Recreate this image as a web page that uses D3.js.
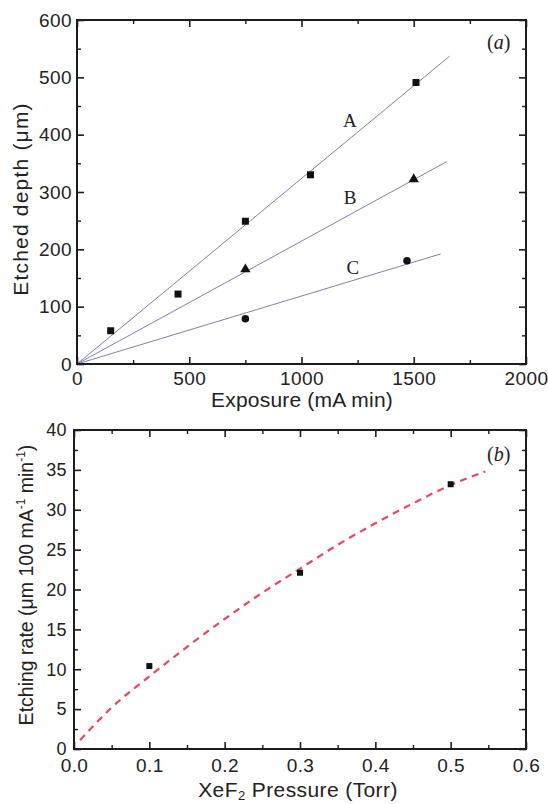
<!DOCTYPE html>
<html>
<head>
<meta charset="utf-8">
<script src="https://cdn.jsdelivr.net/npm/d3@7"></script>
<style>
  body { margin: 0; background: #fff; }
  svg { display: block; }
  text { font-family: "Liberation Sans", Arial, sans-serif; fill: #222; }
  .serif { font-family: "Liberation Serif", "Times New Roman", serif; }
</style>
</head>
<body>
<svg id="canvas" width="548" height="804"></svg>
<script>
// panel (a) data: exposure (mA min) vs etched depth (um)
let expA = [150, 450, 750, 1040, 1510]
let depthA = [58, 122, 249, 330, 491]
let expB = [750, 1500]
let depthB = [166, 323]
let expC = [750, 1470]
let depthC = [79, 180]

// straight fit lines through the origin
let fitX = [[0, 1660], [0, 1647], [0, 1620]]
let fitY = [[0, 537], [0, 353], [0, 192]]
let fitNames = ['A', 'B', 'C']

// panel (b) data: XeF2 pressure vs etching rate
let pressure = [0.1, 0.3, 0.5]
let rate = [10.4, 22.1, 33.2]

// dashed fit curve
let curveP = [0.008, 0.05, 0.1, 0.15, 0.2, 0.25, 0.3, 0.35, 0.4, 0.45, 0.5, 0.546]
let curveR = [1.1, 5.2, 9.1, 12.8, 16.3, 19.6, 22.6, 25.6, 28.3, 30.8, 33.1, 34.8]

let xTicksA = [0, 500, 1000, 1500, 2000]
let yTicksA = [0, 100, 200, 300, 400, 500, 600]
let xTicksB = [0.0, 0.1, 0.2, 0.3, 0.4, 0.5, 0.6]
let yTicksB = [0, 5, 10, 15, 20, 25, 30, 35, 40]

let canvas = d3.select('#canvas')
let ink = '#1c1c1c'

// draws frame + inward ticks on all four sides
let drawFrame = (g, x, y, xMaj, xMin, yMaj, yMin, xFmt, yFmt, fs, yfs, xPad, yPad) => {
    let w = x.range()[1] - x.range()[0]
    let h = y.range()[0] - y.range()[1]
    let axes = [
        [d3.axisBottom(x), 'translate(0,' + h + ')', xMaj, xMin, xFmt],
        [d3.axisTop(x), 'translate(0,0)', xMaj, xMin, null],
        [d3.axisLeft(y), 'translate(0,0)', yMaj, yMin, yFmt],
        [d3.axisRight(y), 'translate(' + w + ',0)', yMaj, yMin, null]
    ]
    axes.forEach(([ax, tr, maj, min, fmt], i) => {
        let pad = i < 2 ? xPad : yPad
        let a = g.append('g').attr('transform', tr)
            .call(ax.tickValues(maj).tickSize(-7).tickPadding(pad)
                .tickFormat(fmt ? fmt : () => ''))
        a.select('.domain').remove()
        a.selectAll('line').attr('stroke', ink).attr('stroke-width', 1.6)
        a.selectAll('text').attr('font-size', i < 2 ? fs : yfs)
            .attr('font-family', '"Liberation Sans", Arial, sans-serif').attr('fill', '#222')
            .attr('letter-spacing', 0.4)
        let m = g.append('g').attr('transform', tr)
            .call(ax.tickValues(min).tickSize(-4).tickFormat(() => ''))
        m.select('.domain').remove()
        m.selectAll('line').attr('stroke', ink).attr('stroke-width', 1.4)
    })
    g.append('rect').attr('width', w).attr('height', h)
        .attr('fill', 'none').attr('stroke', ink).attr('stroke-width', 2)
}

// ---------------- panel (a)
let xA = d3.scaleLinear().domain([0, 2000]).range([0, 449])
let yA = d3.scaleLinear().domain([0, 600]).range([344, 0])
let gA = canvas.append('g').attr('transform', 'translate(77,20)')

fitX.forEach((xs, i) => {
    gA.append('path')
        .datum(xs.map((v, j) => [v, fitY[i][j]]))
        .attr('d', d3.line().x(d => xA(d[0])).y(d => yA(d[1])))
        .attr('fill', 'none').attr('stroke', '#6e739e').attr('stroke-width', 0.9)
})

gA.selectAll('.sq').data(expA).enter().append('rect')
    .attr('x', (d) => xA(d) - 3.5).attr('y', (d, i) => yA(depthA[i]) - 3.5)
    .attr('width', 7).attr('height', 7).attr('fill', '#111')
gA.selectAll('.tri').data(expB).enter().append('path')
    .attr('d', d3.symbol(d3.symbolTriangle, 46))
    .attr('transform', (d, i) => 'translate(' + xA(d) + ',' + (yA(depthB[i]) + 0.5) + ')')
    .attr('fill', '#111')
gA.selectAll('.dot').data(expC).enter().append('circle')
    .attr('cx', (d) => xA(d)).attr('cy', (d, i) => yA(depthC[i]))
    .attr('r', 3.8).attr('fill', '#111')

drawFrame(gA, xA, yA, xTicksA, d3.range(250, 2000, 500), yTicksA, d3.range(50, 600, 100),
    d3.format('d'), d3.format('d'), 19, 19, 8, 5)

let labelPos = [[1216, 425], [1216, 291], [1229, 169]]
fitNames.forEach((n, i) => {
    gA.append('text').attr('class', 'serif')
        .attr('x', xA(labelPos[i][0])).attr('y', yA(labelPos[i][1]))
        .attr('dy', '0.35em').attr('text-anchor', 'middle')
        .attr('font-size', 19).text(n)
})
let ta = gA.append('text').attr('class', 'serif').attr('x', 410).attr('y', 29).attr('font-size', 20)
ta.append('tspan').text('(')
ta.append('tspan').attr('font-style', 'italic').text('a')
ta.append('tspan').text(')')

canvas.append('text').attr('x', 302).attr('y', 407).attr('text-anchor', 'middle')
    .attr('font-size', 21).attr('letter-spacing', 0.2).text('Exposure (mA min)')
canvas.append('text').attr('transform', 'translate(28,199) rotate(-90)')
    .attr('text-anchor', 'middle').attr('font-size', 21).attr('letter-spacing', 1.2)
    .text('Etched depth (\u03bcm)')

// ---------------- panel (b)
let xB = d3.scaleLinear().domain([0, 0.6]).range([0, 452])
let yB = d3.scaleLinear().domain([0, 40]).range([319, 0])
let gB = canvas.append('g').attr('transform', 'translate(74,430)')

gB.append('path')
    .datum(curveP.map((p, i) => [p, curveR[i]]))
    .attr('d', d3.line().curve(d3.curveMonotoneX).x(d => xB(d[0])).y(d => yB(d[1])))
    .attr('fill', 'none').attr('stroke', '#e8485e').attr('stroke-width', 2.2)
    .attr('stroke-dasharray', '7,5.5')

gB.selectAll('.sq').data(pressure).enter().append('rect')
    .attr('x', (d) => xB(d) - 3).attr('y', (d, i) => yB(rate[i]) - 3)
    .attr('width', 6).attr('height', 6).attr('fill', '#111')

drawFrame(gB, xB, yB, xTicksB, d3.range(0.05, 0.6, 0.1), yTicksB, d3.range(2.5, 40, 5),
    d3.format('.1f'), d3.format('d'), 19, 18, 10, 7)

let tb = gB.append('text').attr('class', 'serif').attr('x', 413).attr('y', 31).attr('font-size', 20)
tb.append('tspan').text('(')
tb.append('tspan').attr('font-style', 'italic').text('b')
tb.append('tspan').text(')')

let xl = canvas.append('text').attr('x', 298).attr('y', 797).attr('text-anchor', 'middle')
    .attr('font-size', 21).attr('letter-spacing', 0.4)
xl.append('tspan').text('XeF')
xl.append('tspan').attr('font-size', 13).attr('dy', 3).text('2')
xl.append('tspan').attr('dy', -3).text(' Pressure (Torr)')

let yl = canvas.append('text').attr('transform', 'translate(33,585) rotate(-90)')
    .attr('text-anchor', 'middle').attr('font-size', 19.5)
yl.append('tspan').text('Etching rate (\u03bcm 100 mA')
yl.append('tspan').attr('font-size', 12).attr('dy', -8).text('-1')
yl.append('tspan').attr('dy', 8).text(' min')
yl.append('tspan').attr('font-size', 12).attr('dy', -8).text('-1')
yl.append('tspan').attr('dy', 8).text(')')
</script>
</body>
</html>
